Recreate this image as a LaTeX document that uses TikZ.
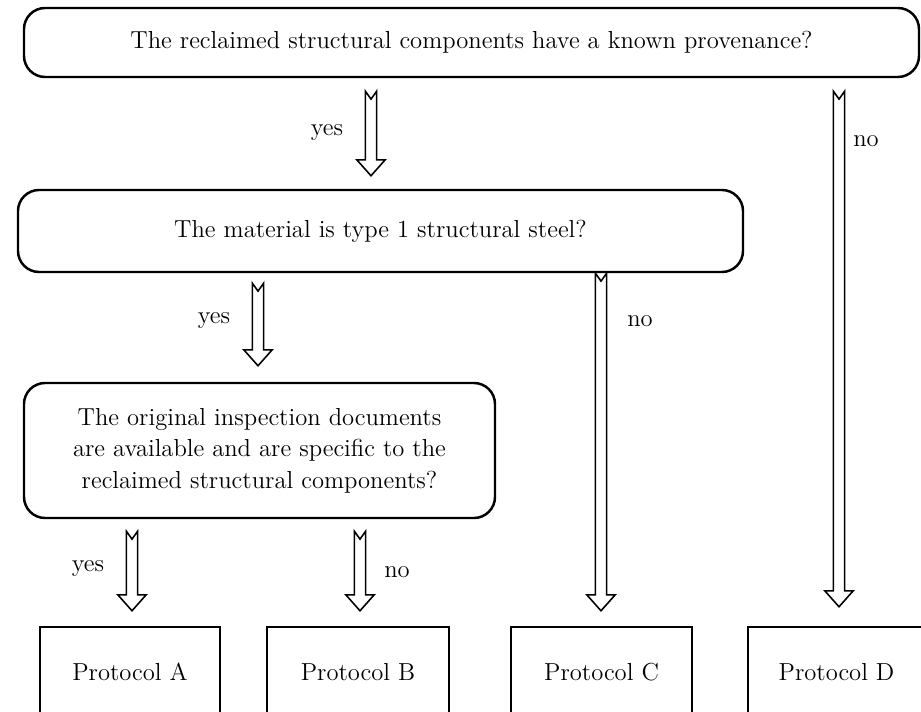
\documentclass[tikz,border=0pt]{standalone}
\usepackage{tikz}
\usetikzlibrary{calc}
\usetikzlibrary{positioning}

\tikzset{
    question/.style={draw=black, line width=1.4pt, rounded corners=12pt, align=center,
        font=\fontsize{14}{18}\selectfont},
    protocol/.style={draw=black, line width=1.4pt, minimum height=1.8cm, align=center,
        font=\fontsize{14}{18}\selectfont},
    answer/.style={font=\fontsize{14}{18}\selectfont}
}

% hollow block arrow with notched tail
\newcommand{\blockarrow}[2]{%
    \path let \p1=(#1), \p2=(#2) in
        [draw=black, line width=0.9pt, line join=miter, fill=white]
        (\x1-3.2pt,\y1) -- (\x1,\y1-4.5pt) -- (\x1+3.2pt,\y1)
        -- (\x1+3.2pt,\y2+9pt) -- (\x1+8pt,\y2+9pt) -- (\x1,\y2)
        -- (\x1-8pt,\y2+9pt) -- (\x1-3.2pt,\y2+9pt) -- cycle;}

\begin{document}
\begin{tikzpicture}
    \useasboundingbox (0,0) rectangle (18.42,-14.24);

    % questions
    \node[question, minimum width=17.9cm, minimum height=1.38cm] (prov) at (9.43,-0.85)
        {The reclaimed structural components have a known provenance?};
    \node[question, minimum width=14.5cm, minimum height=1.64cm] (steel) at (7.61,-4.62)
        {The material is type 1 structural steel?};
    \node[question, minimum width=9.42cm, minimum height=2.7cm] (docs) at (5.19,-9.01)
        {The original inspection documents\\are available and are specific to the\\reclaimed structural components?};

    % protocols
    \node[protocol, minimum width=3.6cm] (protA) at (2.6,-13.44) {Protocol A};
    \node[protocol, minimum width=3.64cm] (protB) at (7.16,-13.44) {Protocol B};
    \node[protocol, minimum width=3.62cm] (protC) at (12.03,-13.44) {Protocol C};
    \node[protocol, minimum width=3.54cm] (protD) at (16.73,-13.44) {Protocol D};

    % arrow columns
    \coordinate (colyes1) at (7.42,0);
    \coordinate (colnoD) at (16.78,0);
    \coordinate (colyes2) at (5.16,0);
    \coordinate (colnoC) at (12.02,0);
    \coordinate (colA) at (2.64,0);
    \coordinate (colB) at (7.2,0);

    \coordinate (y1top) at ([yshift=-0.26cm]prov.south -| colyes1);
    \coordinate (y1end) at ([yshift=0.26cm]steel.north -| colyes1);
    \coordinate (nDtop) at ([yshift=-0.26cm]prov.south -| colnoD);
    \coordinate (nDend) at ([yshift=0.38cm]protD.north -| colnoD);
    \coordinate (y2top) at ([yshift=-0.2cm]steel.south -| colyes2);
    \coordinate (y2end) at ([yshift=0.32cm]docs.north -| colyes2);
    \coordinate (nCtop) at (steel.south -| colnoC);
    \coordinate (nCend) at ([yshift=0.3cm]protC.north -| colnoC);
    \coordinate (yAtop) at ([yshift=-0.24cm]docs.south -| colA);
    \coordinate (yAend) at ([yshift=0.3cm]protA.north -| colA);
    \coordinate (nBtop) at ([yshift=-0.24cm]docs.south -| colB);
    \coordinate (nBend) at ([yshift=0.3cm]protB.north -| colB);

    \blockarrow{y1top}{y1end}
    \blockarrow{nDtop}{nDend}
    \blockarrow{y2top}{y2end}
    \blockarrow{nCtop}{nCend}
    \blockarrow{yAtop}{yAend}
    \blockarrow{nBtop}{nBend}

    % answers
    \node[answer] (ans1) at (6.54,-2.66) {yes};
    \node[answer] (ans2) at (17.32,-2.82) {no};
    \node[answer] (ans3) at (4.28,-6.42) {yes};
    \node[answer] (ans4) at (12.8,-6.42) {no};
    \node[answer] (ans5) at (1.76,-11.38) {yes};
    \node[answer] (ans6) at (7.94,-11.44) {no};
\end{tikzpicture}
\end{document}
